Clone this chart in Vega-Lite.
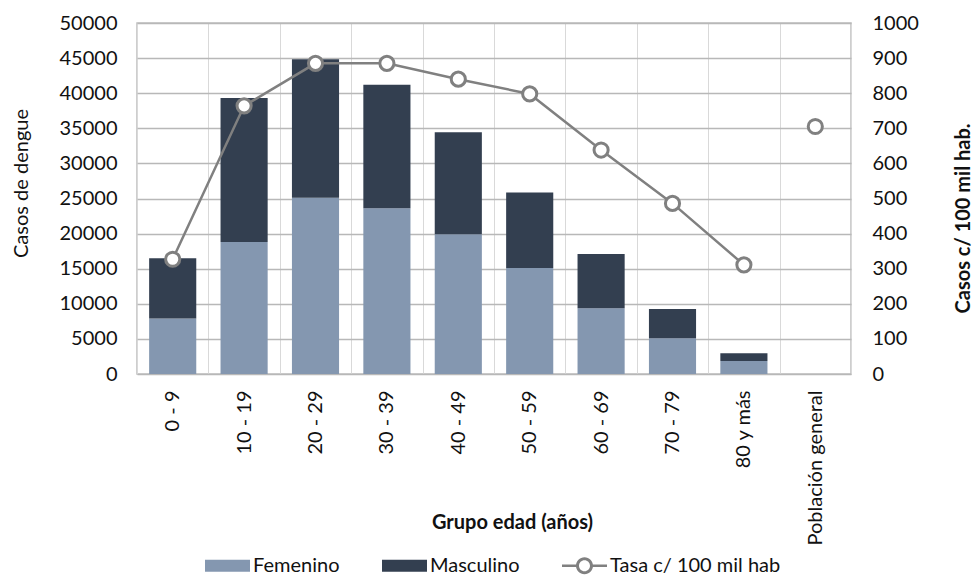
{
  "$schema": "https://vega.github.io/schema/vega-lite/v6.json",
  "autosize": "none",
  "width": 714,
  "height": 351,
  "padding": {"left": 137, "top": 23, "right": 122, "bottom": 202},
  "background": "white",
  "config": {
    "font": "Lato",
    "view": {"stroke": "#bfbfbf", "strokeWidth": 1.5},
    "axis": {
      "labelFont": "Lato",
      "titleFont": "Lato",
      "labelColor": "#111111",
      "titleColor": "#111111",
      "domain": false,
      "ticks": false,
      "labelFontSize": 20,
      "titleFontSize": 20
    },
    "legend": {
      "orient": "none",
      "direction": "horizontal",
      "legendX": 68,
      "legendY": 520,
      "padding": 0,
      "title": null,
      "labelFont": "Lato",
      "labelFontSize": 20,
      "labelColor": "#111111",
      "labelOffset": 3,
      "labelLimit": 400,
      "symbolSize": 2025,
      "symbolStrokeWidth": 0,
      "columnPadding": 42
    }
  },
  "datasets": {
    "casos": [
      {"grupo": "0 - 9", "serie": "Femenino", "orden": 1, "casos": 7900},
      {"grupo": "0 - 9", "serie": "Masculino", "orden": 2, "casos": 8600},
      {"grupo": "10 - 19", "serie": "Femenino", "orden": 1, "casos": 18800},
      {"grupo": "10 - 19", "serie": "Masculino", "orden": 2, "casos": 20500},
      {"grupo": "20 - 29", "serie": "Femenino", "orden": 1, "casos": 25100},
      {"grupo": "20 - 29", "serie": "Masculino", "orden": 2, "casos": 19750},
      {"grupo": "30 - 39", "serie": "Femenino", "orden": 1, "casos": 23600},
      {"grupo": "30 - 39", "serie": "Masculino", "orden": 2, "casos": 17600},
      {"grupo": "40 - 49", "serie": "Femenino", "orden": 1, "casos": 19900},
      {"grupo": "40 - 49", "serie": "Masculino", "orden": 2, "casos": 14550},
      {"grupo": "50 - 59", "serie": "Femenino", "orden": 1, "casos": 15100},
      {"grupo": "50 - 59", "serie": "Masculino", "orden": 2, "casos": 10750},
      {"grupo": "60 - 69", "serie": "Femenino", "orden": 1, "casos": 9350},
      {"grupo": "60 - 69", "serie": "Masculino", "orden": 2, "casos": 7750},
      {"grupo": "70 - 79", "serie": "Femenino", "orden": 1, "casos": 5100},
      {"grupo": "70 - 79", "serie": "Masculino", "orden": 2, "casos": 4150},
      {"grupo": "80 y más", "serie": "Femenino", "orden": 1, "casos": 1850},
      {"grupo": "80 y más", "serie": "Masculino", "orden": 2, "casos": 1100}
    ],
    "tasa": [
      {"grupo": "0 - 9", "serie": "Tasa c/ 100 mil hab", "tramo": "edad", "tasa": 327},
      {"grupo": "10 - 19", "serie": "Tasa c/ 100 mil hab", "tramo": "edad", "tasa": 764},
      {"grupo": "20 - 29", "serie": "Tasa c/ 100 mil hab", "tramo": "edad", "tasa": 885},
      {"grupo": "30 - 39", "serie": "Tasa c/ 100 mil hab", "tramo": "edad", "tasa": 885},
      {"grupo": "40 - 49", "serie": "Tasa c/ 100 mil hab", "tramo": "edad", "tasa": 840},
      {"grupo": "50 - 59", "serie": "Tasa c/ 100 mil hab", "tramo": "edad", "tasa": 798},
      {"grupo": "60 - 69", "serie": "Tasa c/ 100 mil hab", "tramo": "edad", "tasa": 638},
      {"grupo": "70 - 79", "serie": "Tasa c/ 100 mil hab", "tramo": "edad", "tasa": 486},
      {"grupo": "80 y más", "serie": "Tasa c/ 100 mil hab", "tramo": "edad", "tasa": 311},
      {"grupo": "Población general", "serie": "Tasa c/ 100 mil hab", "tramo": "general", "tasa": 705}
    ]
  },
  "layer": [
    {
      "data": {"name": "casos"},
      "mark": {"type": "bar", "width": {"band": 0.66}},
      "encoding": {
        "x": {
          "field": "grupo",
          "type": "nominal",
          "sort": null,
          "scale": {
            "domain": ["0 - 9", "10 - 19", "20 - 29", "30 - 39", "40 - 49", "50 - 59", "60 - 69", "70 - 79", "80 y más", "Población general"],
            "paddingInner": 0,
            "paddingOuter": 0
          },
          "axis": {
            "title": "Grupo edad (años)",
            "titleFontWeight": "bold",
            "titleX": 375,
            "titleY": 148,
            "titleBaseline": "middle",
            "titleAlign": "center",
            "labelAngle": -90,
            "labelAlign": "right",
            "labelBaseline": "middle",
            "labelPadding": 16,
            "grid": true,
            "tickBand": "extent",
            "gridColor": "#d9d9d9",
            "gridWidth": 1
          }
        },
        "y": {
          "field": "casos",
          "type": "quantitative",
          "stack": "zero",
          "scale": {"domain": [0, 50000]},
          "axis": {
            "title": "Casos de dengue",
            "titleFontWeight": "normal",
            "titleX": -116,
            "titleY": 160,
            "titleAlign": "center",
            "titleBaseline": "middle",
            "values": [0, 5000, 10000, 15000, 20000, 25000, 30000, 35000, 40000, 45000, 50000],
            "format": "d",
            "labelPadding": 20,
            "grid": true,
            "gridColor": "#b8b8b8",
            "gridWidth": 1.5
          }
        },
        "color": {
          "field": "serie",
          "type": "nominal",
          "scale": {
            "domain": ["Femenino", "Masculino", "Tasa c/ 100 mil hab"],
            "range": ["#8497b0", "#333f50", "#808080"]
          },
          "legend": {
            "encode": {
              "symbols": {
                "update": {
                  "shape": {"signal": "datum.value === 'Tasa c/ 100 mil hab' ? 'M-1,-0.056L-0.37,-0.056L-0.37,0.056L-1,0.056ZM0.37,-0.056L1,-0.056L1,0.056L0.37,0.056ZM-0.378,0A0.378,0.378,0,1,1,0.378,0A0.378,0.378,0,1,1,-0.378,0ZM-0.244,0A0.244,0.244,0,1,0,0.244,0A0.244,0.244,0,1,0,-0.244,0Z' : 'M-1,-0.27L1,-0.27L1,0.27L-1,0.27Z'"},
                  "strokeWidth": {"value": 0},
                  "opacity": {"value": 1},
                  "fillOpacity": {"value": 1}
                }
              }
            }
          }
        },
        "order": {"field": "orden"}
      }
    },
    {
      "data": {"name": "tasa"},
      "encoding": {
        "x": {"field": "grupo", "type": "nominal", "sort": null},
        "y": {
          "field": "tasa",
          "type": "quantitative",
          "scale": {"domain": [0, 1000]},
          "axis": {
            "orient": "right",
            "title": "Casos c/ 100 mil hab.",
            "titleFontWeight": "bold",
            "titleAngle": -90,
            "titleX": 112,
            "titleY": 195,
            "titleAlign": "center",
            "titleBaseline": "middle",
            "values": [0, 100, 200, 300, 400, 500, 600, 700, 800, 900, 1000],
            "format": "d",
            "labelPadding": 21,
            "grid": false
          }
        },
        "color": {"field": "serie", "type": "nominal"}
      },
      "layer": [
        {"mark": {"type": "line", "strokeWidth": 2.5}, "encoding": {"detail": {"field": "tramo"}}},
        {"mark": {"type": "point", "filled": false, "fill": "#ffffff", "size": 200, "strokeWidth": 3, "opacity": 1}}
      ]
    }
  ],
  "resolve": {"scale": {"y": "independent"}}
}
